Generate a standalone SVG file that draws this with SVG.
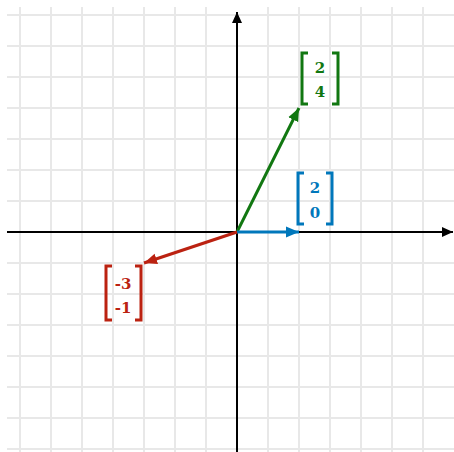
<svg xmlns="http://www.w3.org/2000/svg" width="454" height="452" viewBox="0 0 454 452">
<style>
.grid line{stroke:#e8e8e8;stroke-width:2}
.axis{stroke:#000;stroke-width:2;fill:none}
.vec{stroke-width:3;fill:none}
.br{fill:none;stroke-width:3}
.lbl{font-family:"DejaVu Serif","Liberation Serif",serif;font-weight:bold;font-size:15px;text-anchor:middle}
</style>
<defs>
<marker id="ak" markerUnits="userSpaceOnUse" markerWidth="12" markerHeight="12" refX="11" refY="6" orient="auto"><path d="M0,1 L11,6 L0,11 Z" fill="#000"/></marker>
<marker id="mg" markerUnits="userSpaceOnUse" markerWidth="14" markerHeight="12" refX="13" refY="6" orient="auto"><path d="M0,0.5 L13,6 L0,11.5 Z" fill="#117711"/></marker>
<marker id="mb" markerUnits="userSpaceOnUse" markerWidth="14" markerHeight="12" refX="13" refY="6" orient="auto"><path d="M0,0.5 L13,6 L0,11.5 Z" fill="#0077bb"/></marker>
<marker id="mr" markerUnits="userSpaceOnUse" markerWidth="14" markerHeight="12" refX="13" refY="6" orient="auto"><path d="M0,0.5 L13,6 L0,11.5 Z" fill="#bb2211"/></marker>
</defs>
<rect width="454" height="452" fill="#fff"/>
<g class="grid">
<line x1="20" y1="7" x2="20" y2="452"/><line x1="51" y1="7" x2="51" y2="452"/><line x1="82" y1="7" x2="82" y2="452"/><line x1="113" y1="7" x2="113" y2="452"/><line x1="144" y1="7" x2="144" y2="452"/><line x1="175" y1="7" x2="175" y2="452"/><line x1="206" y1="7" x2="206" y2="452"/><line x1="268" y1="7" x2="268" y2="452"/><line x1="299" y1="7" x2="299" y2="452"/><line x1="330" y1="7" x2="330" y2="452"/><line x1="361" y1="7" x2="361" y2="452"/><line x1="392" y1="7" x2="392" y2="452"/><line x1="423" y1="7" x2="423" y2="452"/>
<line x1="7" y1="15" x2="454" y2="15"/><line x1="7" y1="46" x2="454" y2="46"/><line x1="7" y1="77" x2="454" y2="77"/><line x1="7" y1="108" x2="454" y2="108"/><line x1="7" y1="139" x2="454" y2="139"/><line x1="7" y1="170" x2="454" y2="170"/><line x1="7" y1="201" x2="454" y2="201"/><line x1="7" y1="263" x2="454" y2="263"/><line x1="7" y1="294" x2="454" y2="294"/><line x1="7" y1="325" x2="454" y2="325"/><line x1="7" y1="356" x2="454" y2="356"/><line x1="7" y1="387" x2="454" y2="387"/><line x1="7" y1="418" x2="454" y2="418"/><line x1="7" y1="449" x2="454" y2="449"/>
</g>
<g id="connectors">
<line id="x-axis" class="axis" x1="7" y1="232" x2="453" y2="232" marker-end="url(#ak)"/>
<line id="y-axis" class="axis" x1="237" y1="452" x2="237" y2="12" marker-end="url(#ak)"/>
<line id="vec-green" class="vec" stroke="#117711" x1="237" y1="232" x2="299" y2="108" marker-end="url(#mg)"/>
<line id="vec-blue" class="vec" stroke="#0077bb" x1="237" y1="232" x2="299" y2="232" marker-end="url(#mb)"/>
<line id="vec-red" class="vec" stroke="#bb2211" x1="237" y1="232" x2="144" y2="263" marker-end="url(#mr)"/>
</g>
<g id="label-green">
<path class="br" stroke="#117711" d="M308,53 H302 V104 H308 M332,53 H338 V104 H332"/>
<text class="lbl" fill="#117711" x="320" y="73">2</text>
<text class="lbl" fill="#117711" x="320" y="97">4</text>
</g>
<g id="label-blue">
<path class="br" stroke="#0077bb" d="M304,173 H298 V224 H304 M326,173 H332 V224 H326"/>
<text class="lbl" fill="#0077bb" x="315" y="193">2</text>
<text class="lbl" fill="#0077bb" x="315" y="218">0</text>
</g>
<g id="label-red">
<path class="br" stroke="#bb2211" d="M112,266 H106 V320 H112 M135,266 H141 V320 H135"/>
<text class="lbl" fill="#bb2211" x="123" y="289">-3</text>
<text class="lbl" fill="#bb2211" x="123" y="313">-1</text>
</g>
</svg>
